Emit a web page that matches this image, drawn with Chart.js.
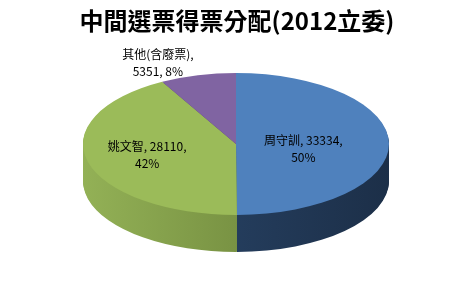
<!DOCTYPE html>
<html>
<head>
<meta charset="utf-8">
<script src="https://cdn.jsdelivr.net/npm/chart.js@4/dist/chart.umd.min.js"></script>
<style>
  html, body { margin: 0; padding: 0; background: #fff; }
  #wrap { width: 474px; height: 283px; }
</style>
</head>
<body>
<div id="wrap"><canvas id="mychart" width="474" height="283"></canvas></div>
<script>
var titleText = '中間選票得票分配(2012立委)';
var names = ['周守訓', '姚文智', '其他(含廢票)'];
var votes = [33334, 28110, 5351];
var percents = ['50%', '42%', '8%'];

var topColors = ['#4f81bd', '#9bbb59', '#8064a2'];
var sideLight = ['#2c4a70', '#93b156', '#5e4a7a'];
var sideDark = ['#1c2f48', '#5f7531', '#3f3154'];

// 3d look: where the flattened pie goes on the canvas
var pieCx = 236, pieCy = 144, pieRx = 153, pieRy = 71, pieDepth = 37;
var labelRadius = [0.44, 0.6, 1];
var labelShift = [[0, 5], [0, 0], [-40, -12]];

function lines(i) {
    if (i == 2) return [names[i] + ',', votes[i] + ', ' + percents[i]];
    return [names[i] + ', ' + votes[i] + ',', percents[i]];
}

var pie3d = {
    id: 'pie3d',
    beforeDatasetsDraw: function (chart) {
        var ctx = chart.ctx;
        var meta = chart.getDatasetMeta(0);
        var a0 = meta.data[0];
        var cx = a0.x, cy = a0.y, r = a0.outerRadius;
        var sx = pieRx / r, sy = pieRy / r;

        // side walls, stacked from the bottom up
        for (var d = pieDepth; d >= 1; d--) {
            meta.data.forEach(function (arc, i) {
                ctx.save();
                ctx.translate(pieCx, pieCy + d);
                ctx.scale(sx, sy);
                ctx.translate(-cx, -cy);
                var g = ctx.createLinearGradient(cx - r, 0, cx + r, 0);
                g.addColorStop(0, sideLight[i]);
                g.addColorStop(1, sideDark[i]);
                var keep = arc.options.backgroundColor;
                arc.options.backgroundColor = g;
                arc.draw(ctx);
                arc.options.backgroundColor = keep;
                ctx.restore();
            });
        }
        // top face
        meta.data.forEach(function (arc) {
            ctx.save();
            ctx.translate(pieCx, pieCy);
            ctx.scale(sx, sy);
            ctx.translate(-cx, -cy);
            arc.draw(ctx);
            ctx.restore();
        });

        // data labels
        ctx.save();
        ctx.font = '12px "Noto Sans CJK TC", "Noto Sans", sans-serif';
        ctx.fillStyle = '#000';
        ctx.textAlign = 'center';
        ctx.textBaseline = 'middle';
        meta.data.forEach(function (arc, i) {
            var mid = (arc.startAngle + arc.endAngle) / 2;
            var f = labelRadius[i];
            var x = pieCx + Math.cos(mid) * pieRx * f + labelShift[i][0];
            var y = pieCy + Math.sin(mid) * pieRy * f + labelShift[i][1];
            var ls = lines(i);
            ctx.fillText(ls[0], x, y - 8.5);
            ctx.fillText(ls[1], x, y + 8.5);
        });
        ctx.restore();
        return false;
    }
};

var ctx = document.getElementById('mychart').getContext('2d');
var myChart = new Chart(ctx, {
    type: 'pie',
    data: {
        labels: names,
        datasets: [{
            data: votes,
            backgroundColor: topColors,
            borderWidth: 0,
            clip: false
        }]
    },
    options: {
        responsive: false,
        animation: false,
        events: [],
        plugins: {
            legend: { display: false },
            tooltip: { enabled: false },
            title: {
                display: true,
                text: titleText,
                color: '#000',
                font: { family: '"Noto Sans CJK TC", sans-serif', size: 24, weight: 'bold' },
                padding: { top: 6, bottom: 0 }
            }
        }
    },
    plugins: [pie3d]
});
</script>
</body>
</html>
